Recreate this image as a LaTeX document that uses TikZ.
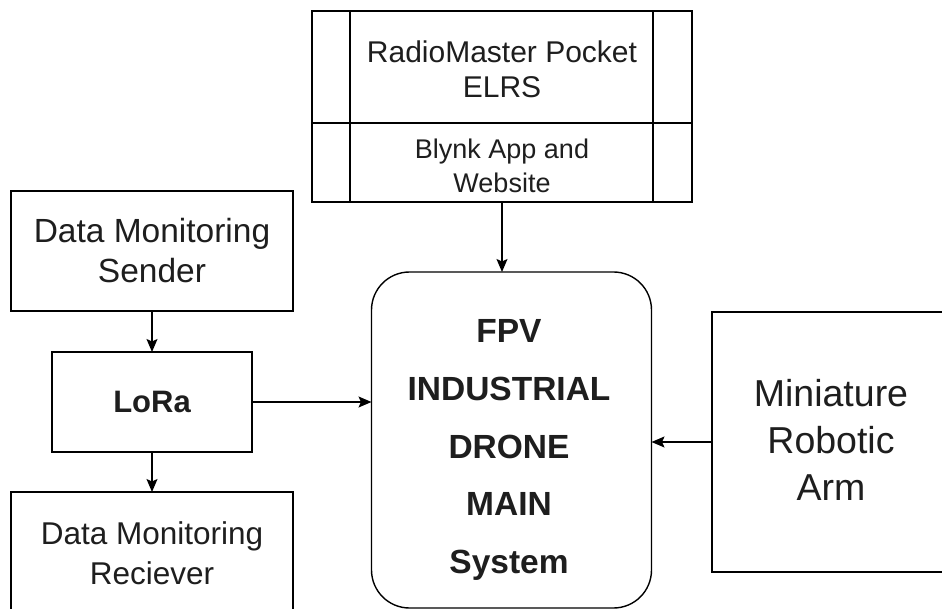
\documentclass[tikz,border=0pt]{standalone}
\usepackage{fontspec}
\setmainfont{Liberation Sans}
\usetikzlibrary{arrows.meta}
\definecolor{txt}{HTML}{1E1E1E}
\begin{document}
\begin{tikzpicture}[x=1pt,y=-1pt,
  box/.style={draw=black, line width=1.4pt, inner sep=0pt, outer sep=0pt, text=txt, align=center},
  lbl/.style={text=txt, align=center, inner sep=0pt, outer sep=0pt},
  edge/.style={draw=black, line width=1.4pt},
  arr/.style={draw=black, line width=1.3pt, -{Stealth[length=13pt,width=11pt,inset=2.5pt]}}]
\fill[white] (0,0) rectangle (942,609);
\useasboundingbox (0,0) rectangle (942,609);
\clip (0,0) rectangle (942,609);
% top double box
\node[box, minimum width=380pt, minimum height=191pt] (top) at (502,106.5) {};
\coordinate (divL) at (312,123);
\coordinate (divR) at (692,123);
\draw[edge] (divL) -- (divR);
\draw[edge] (350,11) -- (350,202);
\draw[edge] (653,11) -- (653,202);
\node[lbl, font=\fontsize{30}{35}\selectfont] (radio) at (502,69) {RadioMaster Pocket\\ELRS};
\node[lbl, font=\fontsize{27}{34}\selectfont] (blynk) at (502,166) {Blynk App and\\Website};
% left column
\node[box, minimum width=282pt, minimum height=120pt, font=\fontsize{33.5}{40}\selectfont] (send) at (152,251) {Data Monitoring\\Sender};
\node[box, minimum width=200pt, minimum height=100pt, font=\fontsize{31}{37}\selectfont\bfseries] (lora) at (152,402) {LoRa};
\node[inner sep=0pt, outer sep=0pt, minimum width=282pt, minimum height=140pt] (recv) at (152,562) {};
\draw[edge] (recv.south west) -- (recv.north west) -- (recv.north east) -- (recv.south east);
\node[lbl, font=\fontsize{31.5}{40}\selectfont] (recvt) at (152,553) {Data Monitoring\\Reciever};
% main
\node[box, rounded corners=38pt, minimum width=280pt, minimum height=336pt] (main) at (511.5,440) {};
\node[lbl, font=\fontsize{33.5}{57.75}\selectfont\bfseries] (maint) at (509,450) {FPV\\INDUSTRIAL\\DRONE\\MAIN\\System};
% arm (open on the right: it runs off the picture)
\node[inner sep=0pt, outer sep=0pt, minimum width=388pt, minimum height=260pt] (arm) at (906,442) {};
\draw[edge] (arm.north east) -- (arm.north west) -- (arm.south west) -- (arm.south east);
\node[lbl, font=\fontsize{37.5}{47}\selectfont] (armt) at (831,440) {Miniature\\Robotic\\Arm};
% connectors
\draw[arr] (top.south) -- (top.south |- main.north);
\draw[arr] (send.south) -- (lora.north);
\draw[arr] (lora.south) -- (recv.north);
\draw[arr] (lora.east) -- (lora.east -| main.west);
\draw[arr] (arm.west) -- (arm.west -| main.east);
\end{tikzpicture}
\end{document}
